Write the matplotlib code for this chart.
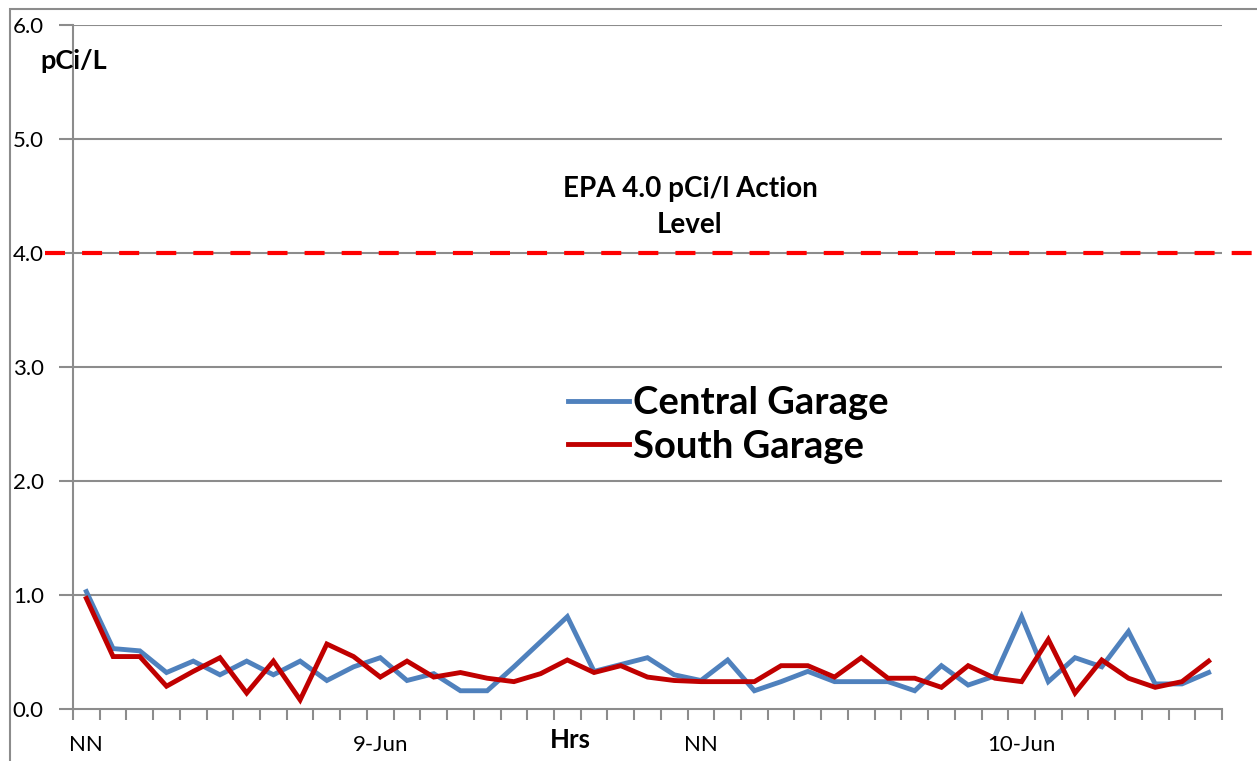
import matplotlib
matplotlib.use("Agg")
import matplotlib.pyplot as plt
from matplotlib.patches import Rectangle
from matplotlib.lines import Line2D

# ---- data ----
central_garage = [1.03, 0.53, 0.51, 0.32, 0.42, 0.30, 0.42, 0.30, 0.42, 0.25,
                  0.37, 0.45, 0.25, 0.31, 0.16, 0.16, 0.37, 0.59, 0.81, 0.33,
                  0.39, 0.45, 0.30, 0.25, 0.43, 0.16, 0.24, 0.33, 0.24, 0.24,
                  0.24, 0.16, 0.38, 0.21, 0.29, 0.81, 0.24, 0.45, 0.37, 0.68,
                  0.22, 0.22, 0.32]
south_garage = [0.97, 0.46, 0.46, 0.20, 0.33, 0.45, 0.14, 0.42, 0.08, 0.57,
                0.46, 0.28, 0.42, 0.28, 0.32, 0.27, 0.24, 0.31, 0.43, 0.32,
                0.38, 0.28, 0.25, 0.24, 0.24, 0.24, 0.38, 0.38, 0.28, 0.45,
                0.27, 0.27, 0.19, 0.38, 0.27, 0.24, 0.61, 0.14, 0.43, 0.27,
                0.19, 0.24, 0.42]
x_label_positions = [0, 11, 23, 35]
x_labels = ["NN", "9-Jun", "NN", "10-Jun"]
y_ticks = [0.0, 1.0, 2.0, 3.0, 4.0, 5.0, 6.0]
epa_level = 4.0
series_names = ["Central Garage", "South Garage"]

plt.rcParams['font.family'] = ['Lato', 'DejaVu Sans']

W, H = 1257, 761
fig = plt.figure(figsize=(W / 100, H / 100), dpi=100)

# chart frame (only top/left visible in the reference)
fig.patches.append(Rectangle((10 / W, -0.1), 1.2, 1 - 9 / H + 0.1,
                             transform=fig.transFigure, fill=False,
                             edgecolor="#8c8c8c", linewidth=1.5))

ax = fig.add_axes([73 / W, 1 - 709 / H, (1222 - 73) / W, (709 - 25) / H])
n = len(central_garage)
xs = list(range(n))

ax.set_xlim(-0.5, n - 0.5)
ax.set_ylim(0, 6)

grid_c = "#8c8c8c"
for v in y_ticks[1:]:
    ax.axhline(v, color=grid_c, lw=1.5, zorder=1)

l1, = ax.plot(xs, central_garage, color="#4f81bd", lw=3.5, zorder=3,
              solid_joinstyle="miter")
l2, = ax.plot(xs, south_garage, color="#c00000", lw=3.5, zorder=4,
              solid_joinstyle="miter")

# EPA action level dashed line (extends past plot area)
y_epa = ax.transData.transform((0, epa_level))[1] / fig.bbox.height
epa = Line2D([45 / W, 1257 / W], [y_epa, y_epa], color="#ff0000", lw=3.0,
             dashes=(4.8, 4.1), dash_capstyle="butt",
             transform=fig.transFigure, zorder=5)
fig.add_artist(epa)

for s in ["top", "right"]:
    ax.spines[s].set_visible(False)
for s in ["left", "bottom"]:
    ax.spines[s].set_color(grid_c)
    ax.spines[s].set_linewidth(1.5)

ax.set_yticks(y_ticks)
ax.set_yticklabels([f"{v:.1f}" for v in y_ticks], fontsize=16)
ax.tick_params(axis="y", length=10, width=1.5, color=grid_c, pad=11)

ax.set_xticks([i - 0.5 for i in range(n + 1)])
ax.set_xticklabels([])
ax.tick_params(axis="x", which="major", length=8, width=1.5, color=grid_c)
ax.set_xticks(x_label_positions, minor=True)
ax.set_xticklabels(x_labels, minor=True, fontsize=16)
ax.tick_params(axis="x", which="minor", length=0, pad=19)

fig.text(570 / W, 1 - 740 / H, "Hrs", fontsize=18.5, fontweight="bold",
         ha="center", va="center")
fig.text(40 / W, 1 - 61 / H, "pCi/L", fontsize=19.5, fontweight="bold",
         ha="left", va="center")
fig.text(690 / W, 1 - 207 / H, "EPA 4.0 pCi/l Action\nLevel", fontsize=20,
         fontweight="bold", ha="center", va="center", linespacing=1.45)

leg = ax.legend([l1, l2], series_names,
                loc="center left",
                bbox_to_anchor=((568 - 73) / (1222 - 73), 1 - (425 - 25) / 684),
                frameon=False, handlelength=1.6, handletextpad=0.1,
                labelspacing=0.25, borderaxespad=0, borderpad=0,
                prop={"size": 27.5, "weight": "bold"})

fig.savefig("out.png", dpi=100)
